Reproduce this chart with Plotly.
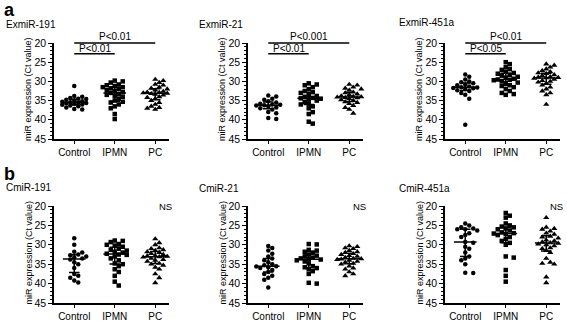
import numpy as np
import plotly.graph_objects as go

W, H = 567, 321
groups = ["Control", "IPMN", "PC"]
yticks = [20, 25, 30, 35, 40, 45]
y_title = "miR expression (Ct value)"

# ---------- data (Ct values) ----------
ex191_control = [31.2, 33.8, 34.0, 34.3, 34.5, 34.6, 34.8, 35.0, 35.2, 35.3, 35.5, 35.6,
                 35.7, 35.8, 36.0, 36.1, 36.3, 36.5, 36.8, 37.2, 37.3, 35.4]
ex191_ipmn = [29.8, 30.0, 30.3, 30.8, 31.0, 31.2, 31.5, 31.8, 32.0, 32.5, 32.8, 33.0, 33.3,
              33.5, 33.8, 34.0, 34.5, 35.0, 35.3, 35.5, 36.0, 36.5, 37.0, 38.5, 39.8, 31.5, 32.3]
ex191_pc = [29.5, 29.8, 30.3, 30.8, 31.0, 31.5, 31.8, 32.0, 32.3, 32.6, 32.8, 33.0, 33.2, 33.4,
            33.6, 34.0, 34.2, 34.5, 35.0, 35.5, 36.0, 36.5, 37.0, 37.3, 36.8, 33.1, 32.9]

ex21_control = [33.7, 33.9, 34.5, 34.8, 35.2, 35.5, 35.8, 36.0, 36.2, 36.3, 36.5, 36.8, 37.0,
                37.3, 38.0, 38.3, 39.5, 39.8, 36.1]
ex21_ipmn = [30.5, 30.8, 31.0, 31.5, 32.0, 32.5, 32.8, 33.0, 33.5, 34.0, 34.3, 34.5, 34.7, 35.0,
             35.3, 35.8, 36.0, 36.5, 37.0, 38.0, 38.5, 40.5, 41.0, 34.4, 33.8]
ex21_pc = [30.8, 31.0, 31.5, 31.8, 32.0, 32.3, 32.8, 33.0, 33.3, 33.5, 33.8, 34.0, 34.2, 34.3,
           34.5, 34.8, 35.0, 35.3, 35.8, 36.3, 36.8, 37.3, 38.3, 34.1, 33.9, 35.5]

ex451_control = [28.2, 28.8, 29.5, 30.0, 30.2, 30.5, 30.8, 31.0, 31.3, 31.5, 31.7, 31.8, 32.0,
                 32.3, 32.5, 33.0, 33.5, 34.5, 41.3, 31.6]
ex451_ipmn = [25.0, 25.5, 26.3, 26.8, 27.0, 27.5, 28.0, 28.3, 28.5, 28.8, 29.0, 29.3, 29.5, 29.7,
              30.0, 30.3, 30.5, 31.0, 31.5, 32.0, 32.5, 33.0, 33.3, 33.5, 29.6, 27.8, 31.2]
ex451_pc = [25.5, 25.8, 26.3, 26.8, 27.2, 27.5, 27.8, 28.0, 28.3, 28.5, 28.8, 29.0, 29.2, 29.5,
            29.8, 30.0, 30.5, 31.0, 31.5, 32.0, 32.5, 33.0, 33.5, 36.0, 29.1, 28.9, 30.2]

c191_control = [28.3, 30.0, 31.8, 32.0, 32.5, 32.7, 33.0, 33.5, 33.8, 34.5, 35.0, 36.0, 37.5,
                38.0, 38.5, 39.2, 39.7, 33.3]
c191_ipmn = [28.9, 29.0, 29.3, 29.8, 30.0, 30.2, 30.5, 31.0, 31.3, 31.8, 32.0, 32.3, 32.5, 33.0,
             33.5, 34.0, 34.8, 35.0, 35.5, 36.3, 37.0, 38.0, 39.5, 40.5, 31.5, 32.6]
c191_pc = [28.5, 29.5, 30.0, 30.8, 31.0, 31.3, 31.5, 31.8, 32.0, 32.3, 32.5, 32.8, 33.0, 33.2,
           33.5, 33.8, 34.0, 34.3, 34.8, 35.0, 35.3, 35.8, 36.3, 37.5, 38.5, 39.8, 33.1, 32.9]

c21_control = [30.3, 30.8, 31.5, 32.3, 33.0, 33.5, 34.0, 34.5, 35.0, 35.3, 35.5, 35.8, 36.0,
               36.5, 37.0, 37.5, 38.0, 38.5, 39.0, 41.0, 35.6]
c21_ipmn = [29.8, 29.9, 31.3, 31.5, 31.8, 32.0, 32.5, 32.8, 33.0, 33.3, 33.5, 33.8, 34.0, 34.3,
            34.8, 35.5, 35.8, 36.0, 36.3, 36.8, 37.5, 39.8, 40.0, 33.7]
c21_pc = [30.3, 30.5, 30.8, 31.0, 31.5, 31.8, 32.0, 32.3, 32.5, 32.8, 33.0, 33.3, 33.5, 33.6,
          33.8, 34.0, 34.3, 34.5, 34.8, 35.0, 35.5, 36.0, 36.3, 37.0, 37.5, 38.0, 33.7]

c451_control = [24.5, 25.0, 25.5, 25.8, 26.0, 26.0, 26.3, 27.0, 27.5, 28.0, 29.5, 30.5, 31.0,
                32.0, 33.0, 33.5, 34.0, 35.0, 37.2, 37.3, 29.3]
c451_ipmn = [21.8, 22.5, 23.0, 24.5, 25.0, 25.3, 25.5, 25.8, 26.0, 26.3, 26.8, 27.0, 27.2, 27.5,
             28.0, 28.5, 29.0, 29.5, 30.0, 33.0, 33.3, 36.5, 38.0, 39.5, 27.1]
c451_pc = [23.0, 25.5, 25.8, 26.0, 26.5, 27.0, 27.3, 27.8, 28.0, 28.3, 28.8, 29.0, 29.3, 29.5,
           29.8, 30.0, 30.3, 30.8, 31.0, 31.5, 32.0, 33.5, 34.5, 34.8, 35.0, 38.3, 39.8, 29.6]

panel_titles = ["ExmiR-191", "ExmiR-21", "ExmiR-451a", "CmiR-191", "CmiR-21", "CmiR-451a"]
panel_data = [
    [ex191_control, ex191_ipmn, ex191_pc],
    [ex21_control, ex21_ipmn, ex21_pc],
    [ex451_control, ex451_ipmn, ex451_pc],
    [c191_control, c191_ipmn, c191_pc],
    [c21_control, c21_ipmn, c21_pc],
    [c451_control, c451_ipmn, c451_pc],
]
# significance labels: (upper bracket Control-PC, lower bracket Control-IPMN)
sig_upper = ["P<0.01", "P<0.001", "P<0.01", None, None, None]
sig_lower = ["P<0.01", "P<0.01", "P<0.05", None, None, None]
ns_label = [None, None, None, "NS", "NS", "NS"]
lower_bracket_y = 22.8

# ---------- layout geometry (pixels) ----------
col_left = [54, 248, 445]
unit_px = 40.5
x_range = [-0.5, 2.35]
panel_w = (x_range[1] - x_range[0]) * unit_px
row_top = [43, 206]
row_bot = [139, 303]
title_pos = [(4, 24), (197, 24), (397, 22), (4, 188), (197, 189), (397, 189)]
symbols = ["circle", "square", "triangle-up"]
msize = [4.5, 4.5, 5.5]
FONT = "Liberation Sans, Arial, sans-serif"


def swarm(vals, ypx, diam, max_off=0.34):
    vals = np.asarray(vals, float)
    order = np.argsort(vals)
    placed = []
    offs = np.zeros(len(vals))
    step = diam * 0.95 / unit_px
    for i in order:
        y = vals[i]
        best, best_d = 0.0, -1
        for k in range(40):
            cand = 0.0 if k == 0 else ((k + 1) // 2) * step * (1 if k % 2 else -1)
            if abs(cand) > max_off:
                break
            d = min([((cand - ox) * unit_px) ** 2 + ((y - oy) * ypx) ** 2
                     for ox, oy in placed] or [1e9])
            if d >= diam ** 2:
                best = cand
                break
            if d > best_d:
                best, best_d = cand, d
        placed.append((best, y))
        offs[i] = best
    return offs


fig = go.Figure()
layout = dict(width=W, height=H, margin=dict(l=0, r=0, t=0, b=0),
              paper_bgcolor="white", plot_bgcolor="white", showlegend=False,
              font=dict(family=FONT, color="black", size=10))
shapes, annotations = [], []

for p in range(6):
    r, c = divmod(p, 3)
    n = "" if p == 0 else str(p + 1)
    xa, ya = "x" + n, "y" + n
    ypx = (row_bot[r] - row_top[r]) / 25.0
    seg_x, seg_y = [], []
    for g, vals in enumerate(panel_data[p]):
        offs = swarm(vals, ypx, 4.2)
        fig.add_trace(go.Scatter(
            x=g + offs, y=vals, mode="markers", xaxis=xa, yaxis=ya,
            marker=dict(symbol=symbols[g], size=msize[g], color="black", line=dict(width=0)),
            cliponaxis=False, hoverinfo="y"))
        q1, med, q3 = np.percentile(vals, [25, 50, 75])
        seg_x += [g - 0.28, g + 0.28, None, g, g, None, g - 0.13, g + 0.13, None,
                  g - 0.13, g + 0.13, None]
        seg_y += [med, med, None, q1, q3, None, q1, q1, None, q3, q3, None]
    fig.add_trace(go.Scatter(x=seg_x, y=seg_y, mode="lines", xaxis=xa, yaxis=ya,
                             line=dict(color="black", width=1.5), hoverinfo="skip"))

    x0 = col_left[c]
    layout["xaxis" + n] = dict(
        domain=[x0 / W, (x0 + panel_w) / W], range=x_range, anchor=ya,
        tickvals=[0, 1, 2], ticktext=groups, showline=True, linecolor="black", linewidth=1.5,
        ticks="outside", ticklen=3, tickwidth=1.2, tickcolor="black", showgrid=False,
        zeroline=False, tickfont=dict(size=10, family=FONT), fixedrange=True,
        automargin=False)
    layout["yaxis" + n] = dict(
        domain=[1 - row_bot[r] / H, 1 - row_top[r] / H], range=[45, 20], anchor=xa,
        tickvals=yticks, showline=True, linecolor="black", linewidth=1.5,
        ticks="outside", ticklen=4, tickwidth=1.2, tickcolor="black",
        minor=dict(dtick=1, ticks="outside", ticklen=2, tickwidth=1, tickcolor="black"),
        showgrid=False, zeroline=False, tickfont=dict(size=10.5, family=FONT),
        fixedrange=True, automargin=False)

    # y-axis title as rotated text beside the tick labels
    annotations.append(dict(text=y_title, textangle=-90, xref="paper", yref="paper",
                            x=(x0 - 26) / W, y=1 - (row_top[r] + row_bot[r] - 4) / 2 / H,
                            xanchor="center", yanchor="middle", showarrow=False,
                            font=dict(size=9, family=FONT)))

    tx, ty = title_pos[p]
    annotations.append(dict(text=panel_titles[p], x=tx / W, y=1 - ty / H, xref="paper",
                            yref="paper", xanchor="left", yanchor="middle", showarrow=False,
                            font=dict(size=10, family=FONT)))
    if sig_upper[p]:
        shapes.append(dict(type="line", xref=xa, yref=ya + " domain", x0=0, x1=2, y0=1, y1=1,
                           line=dict(color="black", width=1.5)))
        annotations.append(dict(text=sig_upper[p], xref=xa, yref=ya, x=1.0, y=20,
                                yanchor="bottom", showarrow=False, yshift=-1,
                                font=dict(size=10, family=FONT)))
    if sig_lower[p]:
        shapes.append(dict(type="line", xref=xa, yref=ya, x0=0, x1=1, y0=lower_bracket_y,
                           y1=lower_bracket_y, line=dict(color="black", width=1.5)))
        annotations.append(dict(text=sig_lower[p], xref=xa, yref=ya, x=0.5, y=lower_bracket_y,
                                yanchor="bottom", showarrow=False, yshift=-2,
                                font=dict(size=10, family=FONT)))
    if ns_label[p]:
        annotations.append(dict(text=ns_label[p], xref=xa, yref=ya, x=2.25, y=20,
                                yanchor="middle", showarrow=False,
                                font=dict(size=9.5, family=FONT)))

annotations.append(dict(text="<b>a</b>", x=2 / W, y=1.0, xref="paper", yref="paper",
                        xanchor="left", yanchor="top", showarrow=False, yshift=2,
                        font=dict(size=18, family=FONT)))
annotations.append(dict(text="<b>b</b>", x=2 / W, y=1 - 162 / H, xref="paper", yref="paper",
                        xanchor="left", yanchor="top", showarrow=False,
                        font=dict(size=18, family=FONT)))

layout["shapes"] = shapes
layout["annotations"] = annotations
fig.update_layout(**layout)
fig.write_html("out.html", config={"displayModeBar": False},
               post_script="document.body.style.margin='0';document.body.style.padding='0';")
